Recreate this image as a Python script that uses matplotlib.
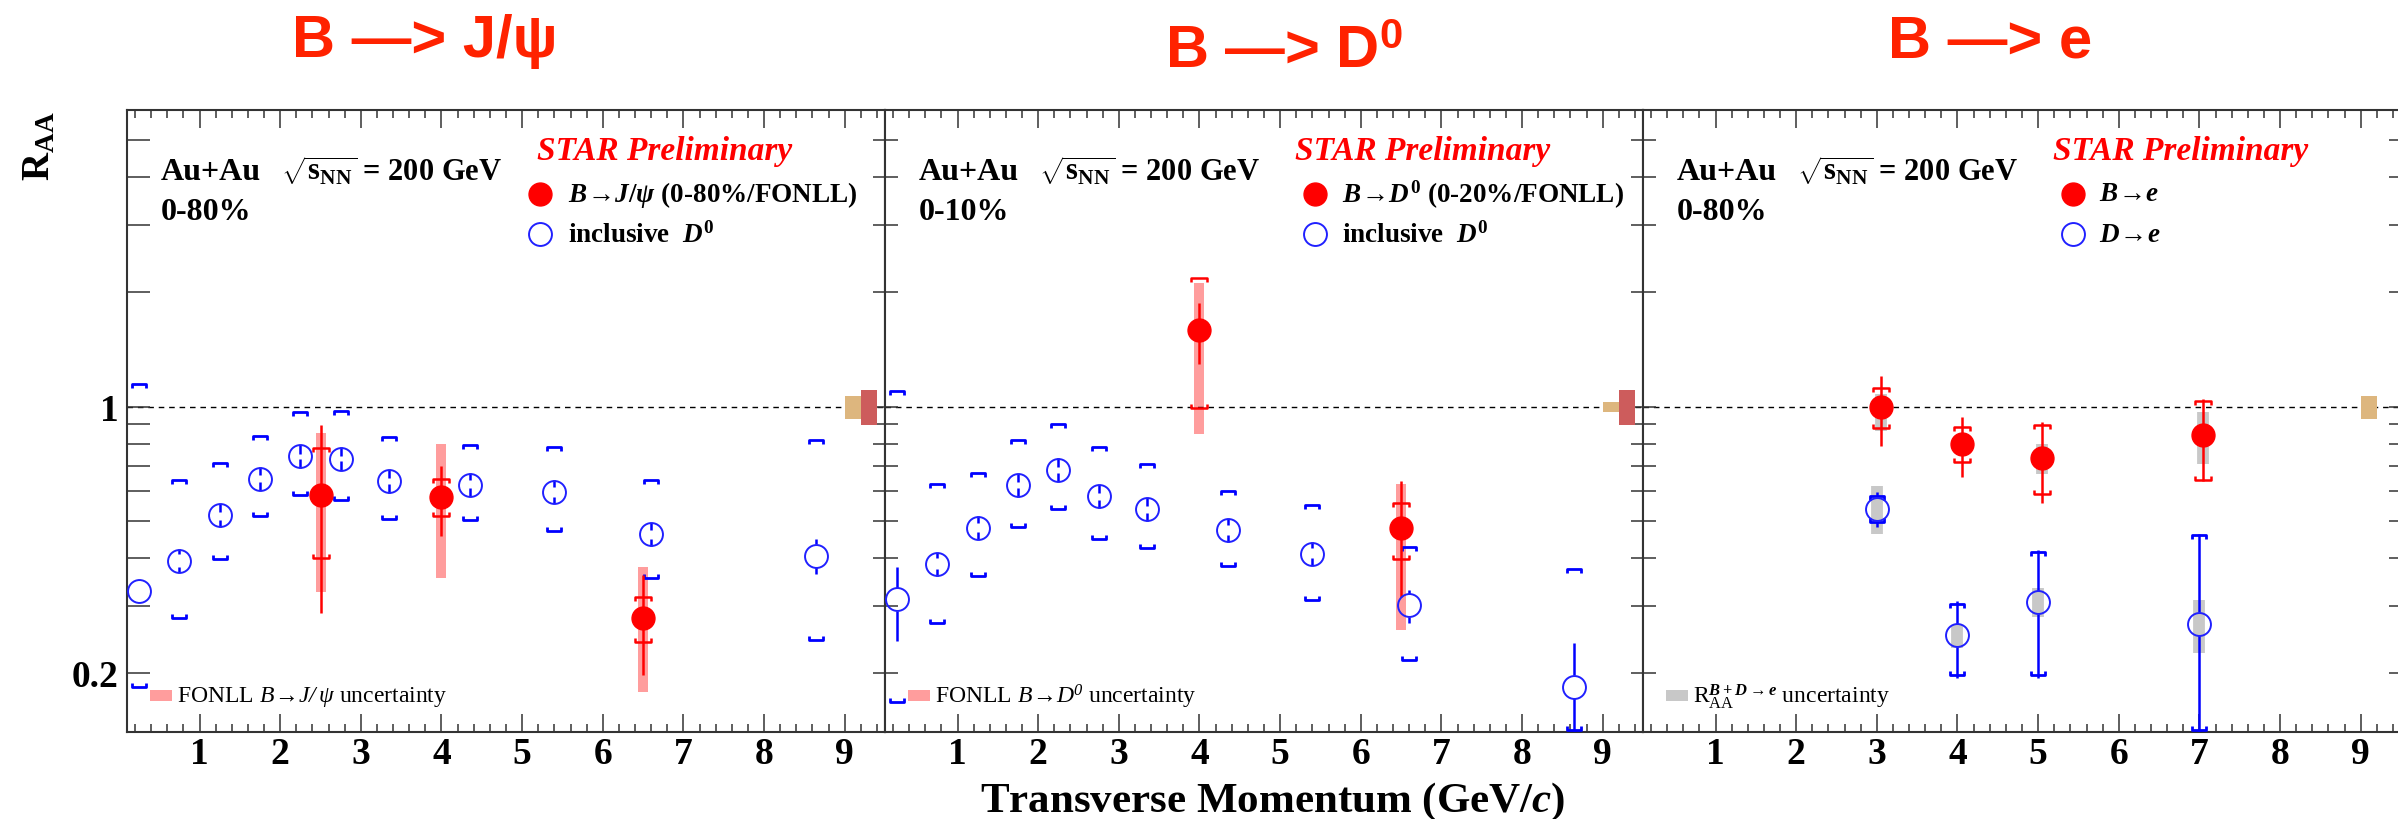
#!/usr/bin/python3

# STAR preliminary R_AA of B -> J/psi, B -> D0 and B -> e (Au+Au 200 GeV)

import numpy as np
import matplotlib
matplotlib.use('Agg')
import matplotlib.pyplot as plt
from matplotlib.path import Path
from matplotlib.patches import Rectangle
from matplotlib.ticker import FixedLocator, FixedFormatter, MultipleLocator, NullLocator, FuncFormatter

# Data
# panel 1: B -> J/psi (0-80% / FONLL)
jpsi_pt = [2.5, 4.0, 6.5]
jpsi_raa = [0.587, 0.579, 0.279]
jpsi_stat_lo = [0.287, 0.457, 0.197]
jpsi_stat_hi = [0.892, 0.700, 0.361]
jpsi_sys_lo = [0.400, 0.516, 0.241]
jpsi_sys_hi = [0.778, 0.644, 0.317]
jpsi_fonll_lo = [0.327, 0.355, 0.178]
jpsi_fonll_hi = [0.851, 0.800, 0.380]

# inclusive D0, 0-80% (panel 1)
d0_pt = [0.25, 0.75, 1.25, 1.75, 2.25, 2.75, 3.35, 4.35, 5.4, 6.6, 8.65]
d0_80_raa = [0.328, 0.394, 0.518, 0.647, 0.740, 0.730, 0.636, 0.624, 0.597, 0.462, 0.406]
d0_80_stat_lo = [0.305, 0.380, 0.505, 0.635, 0.730, 0.720, 0.625, 0.610, 0.580, 0.450, 0.363]
d0_80_stat_hi = [0.350, 0.410, 0.530, 0.660, 0.750, 0.740, 0.650, 0.640, 0.615, 0.475, 0.450]
d0_80_sys_lo = [0.184, 0.279, 0.397, 0.516, 0.585, 0.570, 0.506, 0.503, 0.471, 0.354, 0.244]
d0_80_sys_hi = [1.149, 0.640, 0.711, 0.839, 0.966, 0.972, 0.831, 0.794, 0.782, 0.640, 0.815]

# panel 2: B -> D0 (0-20% / FONLL)
bd0_pt = [4.0, 6.5]
bd0_raa = [1.587, 0.480]
bd0_stat_lo = [1.293, 0.317]
bd0_stat_hi = [1.875, 0.636]
bd0_sys_lo = [0.990, 0.397]
bd0_sys_hi = [2.180, 0.559]
bd0_fonll_lo = [0.848, 0.259]
bd0_fonll_hi = [2.115, 0.628]

# inclusive D0, 0-10% (panel 2)
d0_10_raa = [0.312, 0.386, 0.481, 0.621, 0.683, 0.582, 0.538, 0.474, 0.411, 0.301, 0.184]
d0_10_stat_lo = [0.243, 0.375, 0.470, 0.610, 0.670, 0.570, 0.525, 0.460, 0.400, 0.270, 0.120]
d0_10_stat_hi = [0.380, 0.400, 0.495, 0.635, 0.695, 0.595, 0.550, 0.490, 0.425, 0.330, 0.239]
d0_10_sys_lo = [0.168, 0.271, 0.359, 0.483, 0.538, 0.448, 0.426, 0.382, 0.311, 0.216, 0.142]
d0_10_sys_hi = [1.101, 0.628, 0.669, 0.815, 0.901, 0.782, 0.708, 0.600, 0.553, 0.429, 0.374]

# panel 3: B -> e and D -> e (0-80%)
be_pt = [3.05, 4.05, 5.05, 7.05]
be_raa = [1.000, 0.798, 0.734, 0.840]
be_stat_lo = [0.790, 0.653, 0.559, 0.636]
be_stat_hi = [1.205, 0.940, 0.910, 1.047]
be_sys_lo = [0.876, 0.715, 0.591, 0.643]
be_sys_hi = [1.118, 0.885, 0.892, 1.037]
be_unc_lo = [0.865, 0.770, 0.667, 0.708]
be_unc_hi = [1.080, 0.830, 0.800, 0.966]

de_pt = [3.0, 4.0, 5.0, 7.0]
de_raa = [0.540, 0.2515, 0.307, 0.269]
de_stat_lo = [0.483, 0.194, 0.194, 0.120]
de_stat_hi = [0.597, 0.309, 0.420, 0.464]
de_sys_lo = [0.498, 0.197, 0.197, 0.142]
de_sys_hi = [0.581, 0.303, 0.416, 0.459]
de_unc_lo = [0.464, 0.232, 0.280, 0.226]
de_unc_hi = [0.617, 0.268, 0.334, 0.311]

# global normalisation boxes at R_AA = 1 (per panel: tan box, dark red box)
norm_tan = [(0.928, 1.069), (0.970, 1.030), (0.928, 1.069)]
norm_red = [(0.895, 1.105), (0.897, 1.105), None]

# Texts
panel_titles = ["B —> J/ψ", "B —> D$^{\\mathsf{0}}$", "B —> e"]
centralities = ["0-80%", "0-10%", "0-80%"]
filled_labels = [r"$B\!\rightarrow\!J/\psi$ (0-80%/FONLL)",
                 r"$B\!\rightarrow\!D^{\mathit{0}}$ (0-20%/FONLL)",
                 r"$B\!\rightarrow\!e$"]
open_labels = [r"inclusive  $D^{\mathit{0}}$", r"inclusive  $D^{\mathit{0}}$", r"$D\!\rightarrow\!e$"]
band_labels = [r"FONLL $\mathtt{B\!\rightarrow\!J/\,\psi}$ uncertainty",
               r"FONLL $\mathtt{B\!\rightarrow\!D^{0}}$ uncertainty",
               r"R$_{\mathregular{AA}}^{B+D\rightarrow e}$ uncertainty"]
y_ticks = [0.2, 0.3, 0.4, 0.5, 0.6, 0.7, 0.8, 0.9, 1, 2, 3, 4, 5]
y_tick_labels = ["0.2", "", "", "", "", "", "", "", "1", "", "", "", ""]

# Style
RED = '#ff0000'
BLUE = '#0000ff'
TITLE_RED = '#ff2200'
PINK = '#ff9d9d'
GREY = '#c8c8c8'
TAN = '#ddb67e'
DARKRED = '#cd5c5c'
AXCOL = '#333333'

plt.rcParams['font.family'] = ['Liberation Serif', 'DejaVu Serif']
plt.rcParams['font.weight'] = 'bold'
plt.rcParams['mathtext.fontset'] = 'custom'
plt.rcParams['mathtext.rm'] = 'Liberation Serif:weight=bold'
plt.rcParams['mathtext.it'] = 'Liberation Serif:style=italic:weight=bold'
plt.rcParams['mathtext.bf'] = 'Liberation Serif:weight=bold'
plt.rcParams['mathtext.sf'] = 'Liberation Sans:weight=bold'
# tt is (ab)used for the light italic of the band legends
plt.rcParams['mathtext.tt'] = 'Liberation Serif:style=italic:weight=regular'

W, H = 2398, 820
AX_LEFT = [127, 885, 1643]
AX_W, AX_TOP, AX_BOT = 758, 111, 733
XMIN, XMAX = 0.1, 9.5
YMIN, YMAX = 0.14, 6.0

# gap left in the stat bar for open circles (radius ~11 px)
px_per_decade = (AX_BOT - AX_TOP) / np.log10(YMAX / YMIN)
GAP = 10 ** (11.5 / px_per_decade)

TOP_BRACKET = Path([(-1, -0.55), (-1, 0), (1, 0), (1, -0.55)],
                   [Path.MOVETO, Path.LINETO, Path.LINETO, Path.LINETO])
BOT_BRACKET = Path([(-1, 0.55), (-1, 0), (1, 0), (1, 0.55)],
                   [Path.MOVETO, Path.LINETO, Path.LINETO, Path.LINETO])


def drawBand(ax, x, lo, hi, color, lw=7.2):
    ax.vlines(x, lo, hi, colors=color, linewidth=lw, capstyle='butt', zorder=1)


def drawSys(ax, x, lo, hi, color, ms, mew):
    ax.plot(x, hi, ls='none', marker=TOP_BRACKET, ms=ms, mfc='none', mec=color, mew=mew, zorder=3)
    ax.plot(x, lo, ls='none', marker=BOT_BRACKET, ms=ms, mfc='none', mec=color, mew=mew, zorder=3)


def drawStat(ax, x, y, lo, hi, color, gap=1.0):
    x = np.array(x)
    y = np.array(y)
    ax.vlines(x, lo, y / gap, colors=color, linewidth=1.8, zorder=3)
    ax.vlines(x, y * gap, hi, colors=color, linewidth=1.8, zorder=3)


def drawOpen(ax, x, y, lo, hi, slo, shi):
    drawStat(ax, x, y, lo, hi, BLUE, GAP)
    drawSys(ax, x, slo, shi, BLUE, 9.5, 2.0)
    ax.plot(x, y, ls='none', marker='o', ms=16.5, mfc='none', mec='#2020ff', mew=1.4, zorder=4)


def drawFilled(ax, x, y, lo, hi, slo, shi):
    drawStat(ax, x, y, lo, hi, RED)
    drawSys(ax, x, slo, shi, RED, 11, 1.8)
    ax.plot(x, y, ls='none', marker='o', ms=16.5, color=RED, zorder=5)


def setupAxes(ax, first):
    ax.set_yscale('log')
    ax.set_xlim(XMIN, XMAX)
    ax.set_ylim(YMIN, YMAX)
    ax.xaxis.set_major_locator(MultipleLocator(1))
    ax.xaxis.set_minor_locator(MultipleLocator(0.2))
    ax.xaxis.set_major_formatter(FuncFormatter(lambda v, p: "%d" % round(v)))
    ax.yaxis.set_major_locator(FixedLocator(y_ticks))
    ax.yaxis.set_minor_locator(NullLocator())
    ax.yaxis.set_major_formatter(FixedFormatter(y_tick_labels if first else [""] * len(y_ticks)))
    ax.tick_params(which='both', direction='in', top=True, right=True, color=AXCOL, width=1.1)
    ax.tick_params(axis='x', which='major', length=13, labelsize=27, pad=3)
    ax.tick_params(axis='x', which='minor', length=5.8)
    ax.tick_params(axis='y', which='major', length=9, labelsize=27, pad=6)
    for s in ax.spines.values():
        s.set_linewidth(1.5)
        s.set_color(AXCOL)
    ax.axhline(1.0, color='k', lw=1.0, ls=(0, (4, 3.5)), zorder=1.5)
    if first:
        # left ticks of the first pad are longer
        for t in ax.yaxis.get_major_ticks():
            t.tick1line.set_markersize(16.5)


def drawLabels(ax, i, mk_x, txt_x):
    ax.text(0.045, 0.889, "Au+Au", transform=ax.transAxes, fontsize=23, va='baseline')
    ax.text(0.203, 0.889, r"$\sqrt{\mathrm{s}_{\mathrm{NN}}}$ = 200 GeV", transform=ax.transAxes,
            fontsize=22, va='baseline')
    ax.text(0.045, 0.825, centralities[i], transform=ax.transAxes, fontsize=23, va='baseline')
    ax.text(0.541, 0.921, "STAR Preliminary", transform=ax.transAxes, fontsize=24, color=RED,
            style='italic', va='baseline')
    ax.plot([mk_x], [0.865], transform=ax.transAxes, marker='o', ms=16.5, color=RED, clip_on=False)
    ax.plot([mk_x], [0.800], transform=ax.transAxes, marker='o', ms=16.5, mfc='none', mec='#2020ff',
            mew=1.4, clip_on=False)
    ax.text(txt_x, 0.865, filled_labels[i], transform=ax.transAxes, fontsize=19.5, va='center')
    ax.text(txt_x, 0.800, open_labels[i], transform=ax.transAxes, fontsize=19.5, va='center')
    band_col = GREY if i == 2 else PINK
    ax.add_patch(Rectangle((0.030, 0.050), 0.029, 0.017, transform=ax.transAxes, color=band_col, lw=0))
    ax.text(0.066, 0.058, band_labels[i], transform=ax.transAxes, fontsize=17, fontweight='normal',
            va='center')


def drawNorm(ax, i):
    lo, hi = norm_tan[i]
    ax.bar(9.1, hi - lo, bottom=lo, width=0.2, color=TAN, zorder=2)
    if norm_red[i] is not None:
        lo, hi = norm_red[i]
        ax.bar(9.3, hi - lo, bottom=lo, width=0.2, color=DARKRED, zorder=2)


def main():
    fig = plt.figure(figsize=(W / 100, H / 100), dpi=100)
    axes = [fig.add_axes([l / W, 1 - AX_BOT / H, AX_W / W, (AX_BOT - AX_TOP) / H]) for l in AX_LEFT]

    # panel 1
    ax = axes[0]
    drawBand(ax, jpsi_pt, jpsi_fonll_lo, jpsi_fonll_hi, PINK)
    drawOpen(ax, d0_pt, d0_80_raa, d0_80_stat_lo, d0_80_stat_hi, d0_80_sys_lo, d0_80_sys_hi)
    drawFilled(ax, jpsi_pt, jpsi_raa, jpsi_stat_lo, jpsi_stat_hi, jpsi_sys_lo, jpsi_sys_hi)

    # panel 2
    ax = axes[1]
    drawBand(ax, bd0_pt, bd0_fonll_lo, bd0_fonll_hi, PINK)
    drawOpen(ax, d0_pt, d0_10_raa, d0_10_stat_lo, d0_10_stat_hi, d0_10_sys_lo, d0_10_sys_hi)
    drawFilled(ax, bd0_pt, bd0_raa, bd0_stat_lo, bd0_stat_hi, bd0_sys_lo, bd0_sys_hi)

    # panel 3
    ax = axes[2]
    drawBand(ax, be_pt, be_unc_lo, be_unc_hi, GREY, lw=8.5)
    drawBand(ax, de_pt, de_unc_lo, de_unc_hi, GREY, lw=8.5)
    drawOpen(ax, de_pt, de_raa, de_stat_lo, de_stat_hi, de_sys_lo, de_sys_hi)
    drawFilled(ax, be_pt, be_raa, be_stat_lo, be_stat_hi, be_sys_lo, be_sys_hi)

    legend_pos = [(0.545, 0.582), (0.567, 0.603), (0.567, 0.602)]
    title_pos = [(425, 57), (1284, 68), (1990, 57)]
    for i, ax in enumerate(axes):
        drawNorm(ax, i)
        setupAxes(ax, i == 0)
        drawLabels(ax, i, *legend_pos[i])
        tx, ty = title_pos[i]
        fig.text(tx / W, 1 - ty / H, panel_titles[i], ha='center', va='baseline', fontsize=43,
                 family='Liberation Sans', fontweight='bold', color=TITLE_RED)

    fig.text(40 / W, 1 - AX_TOP / H, r"R$_{\mathrm{AA}}$", rotation=90, ha='center', va='top', fontsize=28)
    fig.text(1273 / W, 1 - 802 / H, r"Transverse Momentum (GeV/$c$)", ha='center', va='center', fontsize=31)

    fig.savefig('out.png', dpi=100)


# Main body
if __name__ == '__main__':
    main()
